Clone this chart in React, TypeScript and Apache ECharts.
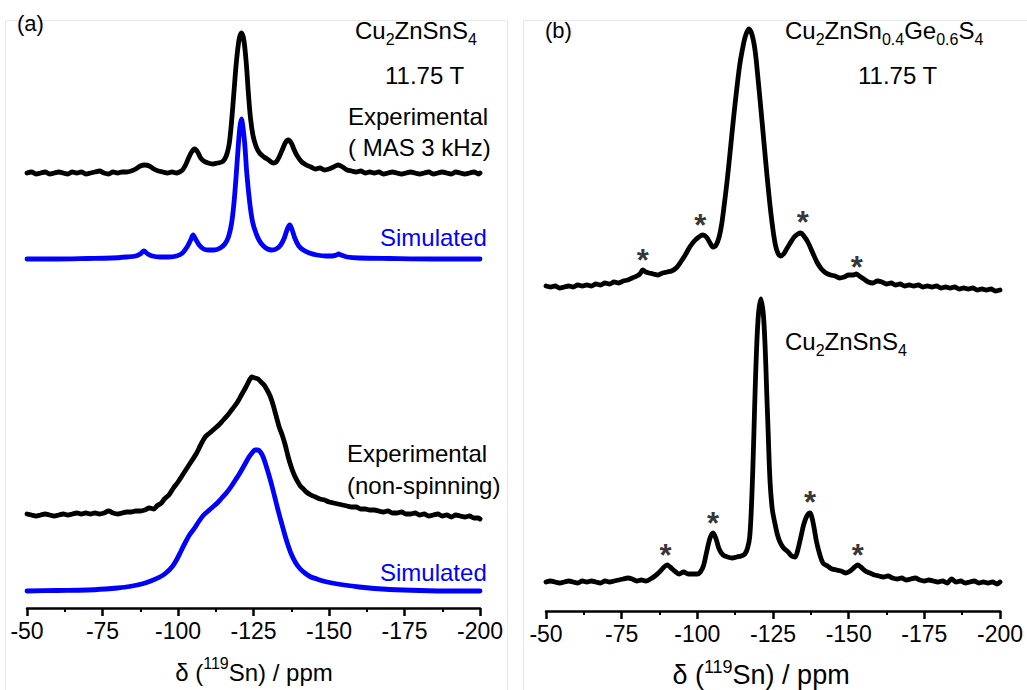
import React, { useEffect, useRef } from "react";
import * as echarts from "echarts";

// ---------- DATA (ppm, intensity above own baseline, in screen-scale units) ----------
const xTicks = [-50, -75, -100, -125, -150, -175, -200];

// Panel (a): Cu2ZnSnS4, MAS 3 kHz experimental
const masExp: number[][] = [
  [-50, 0], [-51.5, 1], [-53, -1], [-54.5, 0], [-56, 1], [-57.5, -1], [-59, 0], [-60.5, 1], [-62, 0], [-63.5, -1],
  [-65, 1], [-66.5, 0], [-68, 1], [-69.5, -1], [-71, 0], [-72.5, 1], [-74, 2], [-75.5, 0], [-77, -1], [-78.5, 1],
  [-80, 0], [-81.5, 1], [-83, 1], [-84.5, 2], [-86, 4], [-87.5, 7], [-89, 8], [-90.5, 7], [-92, 4], [-93.5, 2],
  [-95, 1], [-96.5, 0], [-98, 1], [-99.5, 0], [-100.5, 1], [-101.5, 3], [-102.5, 8], [-103.5, 15], [-104.5, 21],
  [-105.5, 24], [-106.5, 21], [-107.5, 15], [-108.5, 12], [-110, 10], [-111.5, 9], [-113, 10], [-114.5, 11],
  [-115.5, 14], [-116.3, 20], [-117, 30], [-117.7, 50], [-118.5, 80], [-119.3, 110], [-120.2, 133], [-121, 140],
  [-121.8, 133], [-122.6, 110], [-123.3, 80], [-124, 55], [-124.8, 38], [-125.8, 27], [-127, 20], [-128.5, 16],
  [-130, 13], [-131.5, 10], [-132.5, 11], [-133.5, 16], [-134.5, 23], [-135.5, 30], [-136.5, 33], [-137.5, 30],
  [-138.5, 23], [-139.5, 17], [-141, 11], [-142.5, 8], [-144, 6], [-145.5, 4], [-147, 5], [-148.5, 3], [-150, 4],
  [-151.5, 6], [-153, 8], [-154.5, 6], [-156, 3], [-157.5, 2], [-159, 1], [-160.5, 2], [-162, 0], [-163.5, 1],
  [-165, 0], [-166.5, 1], [-168, -1], [-169.5, 0], [-171, 1], [-172.5, 0], [-174, -1], [-175.5, 0], [-177, 1],
  [-178.5, 0], [-180, -1], [-181.5, 0], [-183, 1], [-184.5, -1], [-186, 0], [-187.5, 1], [-189, 0], [-190.5, -1],
  [-192, 1], [-193.5, 0], [-195, -1], [-196.5, 0], [-198, 1], [-199.5, -1], [-200, 0],
];

// Panel (a): simulated MAS
const masSim: number[][] = [
  [-50, 0], [-60, 0], [-70, 0.5], [-78, 1], [-83, 2], [-86, 3], [-87.5, 5], [-88.7, 8], [-90, 5], [-91.5, 3],
  [-94, 2], [-97, 2], [-99.5, 3], [-101.5, 6], [-103, 12], [-104.2, 19], [-105, 24], [-105.8, 20], [-107, 14],
  [-108.5, 10], [-110, 9], [-112, 9], [-114, 11], [-115.5, 15], [-116.7, 22], [-117.7, 35], [-118.5, 55],
  [-119.3, 85], [-120, 115], [-120.5, 132], [-121, 140], [-121.5, 132], [-122.1, 115], [-122.8, 85], [-123.8, 55],
  [-124.7, 37], [-125.8, 26], [-127, 18], [-128.3, 13], [-129.7, 10], [-131, 9], [-132.5, 10], [-134, 14],
  [-135.2, 21], [-136.2, 30], [-137, 34], [-137.8, 29], [-138.8, 20], [-140, 13], [-141.5, 9], [-143.5, 6],
  [-146, 4], [-149, 3], [-151, 3], [-152.5, 4], [-153.2, 5], [-154, 4], [-156, 2], [-160, 1], [-170, 0.5],
  [-185, 0], [-200, 0],
];

// Panel (a): non-spinning experimental
const staticExp: number[][] = [
  [-50, 1], [-51.5, 0], [-53, -1], [-54.5, 0], [-56, 1], [-57.5, 0], [-59, -1], [-60.5, 0], [-62, 1], [-63.5, 0],
  [-65, 1], [-66.5, 2], [-68, 1], [-69.5, 2], [-71, 1], [-72.5, 2], [-74, 1], [-75.5, 2], [-77, 4], [-78.5, 2],
  [-80, 1], [-81.5, 2], [-83, 3], [-84.5, 3], [-86, 4], [-87.5, 4], [-89, 5], [-90.5, 7], [-92, 6], [-93, 9],
  [-94.5, 12], [-95.5, 16], [-97, 20], [-98.5, 27], [-100, 33], [-101.5, 40], [-103, 47], [-104.5, 54],
  [-106, 61], [-107.5, 70], [-109, 78], [-110.5, 82], [-112, 86], [-113.5, 90], [-115, 95], [-116.5, 100],
  [-118, 106], [-119.5, 112], [-121, 120], [-122.5, 128], [-123.5, 134], [-124.5, 138], [-125.5, 137],
  [-126.5, 136], [-127.5, 133], [-128.5, 130], [-129.5, 125], [-130.5, 119], [-131.5, 110], [-132.5, 99],
  [-133.5, 88], [-134.5, 80], [-135.5, 70], [-136.5, 58], [-137.5, 48], [-138.5, 40], [-139.5, 34], [-140.5, 29],
  [-141.5, 26], [-142.5, 23], [-144, 20], [-145.5, 18], [-147, 16], [-148.5, 15], [-150, 13], [-151.5, 12],
  [-153, 11], [-154.5, 10], [-156, 9], [-157.5, 8], [-159, 8], [-160.5, 6], [-162, 6], [-163.5, 5], [-165, 5],
  [-166.5, 4], [-168, 3], [-169.5, 4], [-171, 2], [-172.5, 2], [-174, 3], [-175.5, 1], [-177, 1], [-178.5, 2],
  [-180, 0], [-181.5, 1], [-183, -1], [-184.5, 0], [-186, 1], [-187.5, -1], [-189, 0], [-190.5, -2], [-192, 0],
  [-193.5, -1], [-195, -2], [-196.5, -1], [-198, -3], [-199.5, -3], [-200, -4],
];

// Panel (a): non-spinning simulated
const staticSim: number[][] = [
  [-50, 0], [-60, 0.5], [-70, 1], [-76, 2], [-80, 3], [-84, 4.5], [-88, 7], [-91, 10], [-94, 14], [-96, 18],
  [-98, 24], [-99.5, 31], [-101, 40], [-102.5, 49], [-104, 57], [-105.5, 63], [-107, 70], [-108.5, 76],
  [-110, 80], [-111.5, 84], [-113, 88], [-114.5, 93], [-116, 98], [-117.5, 104], [-119, 111], [-120.5, 118],
  [-122, 126], [-123.5, 134], [-124.5, 138], [-125.5, 141], [-126.5, 141], [-127.3, 139], [-128.2, 134],
  [-129.2, 125], [-130.2, 115], [-131.2, 104], [-132.2, 92], [-133.2, 80], [-134.2, 69], [-135.2, 58],
  [-136.3, 47], [-137.5, 37], [-139, 28], [-140.5, 22], [-142, 18], [-144, 14], [-146, 12], [-148, 10],
  [-151, 8], [-155, 6], [-160, 4], [-165, 2.5], [-170, 1.5], [-180, 0.5], [-190, 0], [-200, 0],
];

// Panel (b): Cu2ZnSn0.4Ge0.6S4
const cztgs: number[][] = [
  [-50, 1], [-51.5, 0], [-53, 1], [-54.5, -1], [-56, 0], [-57.5, 1], [-59, 0], [-60.5, 2], [-62, 1], [-63.5, 2],
  [-65, 1], [-66.5, 3], [-68, 2], [-69.5, 4], [-71, 3], [-72.5, 5], [-74, 4], [-75.5, 6], [-77, 7], [-78.5, 9],
  [-80, 11], [-81, 13], [-82, 17], [-83, 15], [-84, 14], [-85.5, 13], [-87, 12], [-88.5, 14], [-90, 15],
  [-91.5, 16], [-93, 19], [-94.5, 25], [-96, 32], [-97.5, 40], [-99, 46], [-100.5, 50], [-101.8, 52],
  [-103, 50], [-104.2, 44], [-105.2, 40], [-106.2, 42], [-107.2, 50], [-108, 62], [-108.8, 80], [-109.8, 105],
  [-110.8, 134], [-112, 170], [-113.1, 200], [-114, 222], [-114.8, 236], [-115.8, 250], [-117, 258],
  [-118.1, 252], [-119.1, 236], [-120, 210], [-121, 178], [-122, 145], [-123, 112], [-124, 82], [-125, 57],
  [-125.8, 42], [-126.6, 34], [-127.5, 31], [-128.5, 33], [-129.5, 38], [-130.7, 44], [-132, 50], [-133.2, 53],
  [-134.2, 54], [-135.2, 51], [-136.5, 45], [-138, 35], [-139.5, 25], [-141, 18], [-142.5, 14], [-144, 12],
  [-145.5, 11], [-147, 9], [-148.5, 10], [-150, 12], [-151.5, 12], [-152.5, 13], [-153.5, 11], [-155, 8],
  [-156.5, 5], [-158, 4], [-159.5, 6], [-161, 5], [-162.5, 3], [-164, 4], [-165.5, 2], [-167, 3], [-168.5, 1],
  [-170, 2], [-171.5, 1], [-173, 2], [-174.5, 0], [-176, 1], [-177.5, 0], [-179, 1], [-180.5, -1], [-182, 0],
  [-183.5, -1], [-185, 0], [-186.5, -2], [-188, -1], [-189.5, -2], [-191, -1], [-192.5, -3], [-194, -2],
  [-195.5, -3], [-197, -2], [-198.5, -4], [-200, -3],
];

// Panel (b): Cu2ZnSnS4
const czts: number[][] = [
  [-50, 0], [-51.5, 1], [-53, 0], [-54.5, -1], [-56, 0], [-57.5, 1], [-59, 0], [-60.5, -1], [-62, 1], [-63.5, 0],
  [-65, 1], [-66.5, 0], [-68, -1], [-69.5, 1], [-71, 0], [-72.5, 1], [-74, 2], [-75.5, 3], [-77, 4], [-78.5, 3],
  [-80, 1], [-81.5, 2], [-83, 1], [-84.5, 3], [-86, 6], [-87.5, 10], [-89, 15], [-90, 17], [-91, 15], [-92.5, 11],
  [-94, 8], [-95.5, 10], [-97, 8], [-98.5, 8], [-100, 8], [-101, 10], [-102, 16], [-103, 29], [-104.2, 44],
  [-105.2, 49], [-106.2, 43], [-107.2, 33], [-108.5, 27], [-110, 25], [-111.5, 24], [-113, 25], [-114.5, 26],
  [-115.7, 28], [-116.6, 34], [-117.3, 45], [-117.8, 70], [-118.3, 110], [-118.7, 150], [-119.1, 192],
  [-119.6, 235], [-120.2, 268], [-121, 283], [-121.8, 268], [-122.4, 235], [-122.9, 192], [-123.4, 150],
  [-123.8, 115], [-124.2, 92], [-124.8, 72], [-125.6, 59], [-126.4, 48], [-127.3, 40], [-128.5, 34], [-130, 30],
  [-131.2, 26], [-132.3, 25], [-133.2, 32], [-134.2, 45], [-135.2, 58], [-136.2, 66], [-137.2, 69], [-138.2, 60],
  [-139.4, 40], [-140.5, 27], [-141.5, 19], [-143, 16], [-144.5, 13], [-146, 12], [-147.5, 11], [-149, 9],
  [-150.5, 11], [-152, 15], [-153, 17], [-154, 15], [-155.5, 11], [-157, 9], [-158.5, 7], [-160, 6], [-161.5, 5],
  [-163, 6], [-164.5, 4], [-166, 3], [-167.5, 4], [-169, 2], [-170.5, 3], [-172, 4], [-173.5, 2], [-175, 1],
  [-176.5, 2], [-178, 1], [-179.5, 0], [-181, 1], [-182.5, -1], [-184, 3], [-185.5, 0], [-187, 1], [-188.5, -1],
  [-190, 0], [-191.5, 1], [-193, -1], [-194.5, 0], [-196, -1], [-197.5, 0], [-199, -2], [-200, 0],
];

// Stacking offsets of each trace (vertical baseline)
const offsetMasExp = 435;
const offsetMasSim = 349;
const offsetStaticExp = 93;
const offsetStaticSim = 17;
const offsetCztgs = 324;
const offsetCzts = 29;

// Spinning-sideband markers (*) in panel (b): [ppm, height]
const starsTop: number[][] = [[-82, 351], [-101, 386], [-134.8, 389], [-152.7, 344]];
const starsBottom: number[][] = [[-89.5, 56], [-105.2, 88], [-137.2, 109], [-153, 56]];

const FONT = "'Liberation Sans', Arial, Helvetica, sans-serif";

function shift(arr: number[][], off: number) {
  return arr.map((p) => [p[0], p[1] + off]);
}

export default function App() {
  const ref = useRef<HTMLDivElement>(null);
  useEffect(() => {
    if (!ref.current) return;
    const chart = echarts.init(ref.current, undefined, { renderer: "svg" });

    const xAxisCommon = {
      type: "value",
      min: -200,
      max: -50,
      interval: 25,
      inverse: true,
      axisLine: { show: true, onZero: false, lineStyle: { color: "#000", width: 2.5 } },
      axisTick: { show: true, inside: false, length: 8, lineStyle: { color: "#000", width: 2.5 } },
      minorTick: { show: true, splitNumber: 2, length: 4, lineStyle: { color: "#000", width: 2 } },
      splitLine: { show: false },
      minorSplitLine: { show: false },
      axisLabel: {
        color: "#000",
        fontSize: 23,
        fontFamily: FONT,
        margin: 11,
        showMinLabel: true,
        showMaxLabel: true,
        formatter: (v: number) => (xTicks.includes(v) ? String(v) : ""),
      },
    };

    const lineSeries = (data: number[][], color: string, axis: number) => ({
      type: "line",
      xAxisIndex: axis,
      yAxisIndex: axis,
      data,
      showSymbol: false,
      symbol: "none",
      smooth: 0.3,
      lineStyle: { color, width: 4.8, cap: "round", join: "round" },
      silent: true,
    });

    const starSeries = (data: number[][]) => ({
      type: "scatter",
      xAxisIndex: 1,
      yAxisIndex: 1,
      data,
      symbol: "circle",
      symbolSize: 1,
      itemStyle: { color: "rgba(0,0,0,0)" },
      label: {
        show: true,
        position: "inside",
        formatter: "*",
        color: "#000",
        fontSize: 31,
        fontWeight: "bold",
        fontFamily: FONT,
        offset: [0, 10],
      },
      labelLayout: { hideOverlap: false },
      silent: true,
    });

    const rich = (size: number) => ({
      n: { fontSize: size, fontFamily: FONT, lineHeight: 34, verticalAlign: "middle", fill: "#000", color: "#000" },
      s: { fontSize: Math.round(size * 0.66), fontFamily: FONT, verticalAlign: "bottom", fill: "#000", color: "#000" },
      u: { fontSize: Math.round(size * 0.66), fontFamily: FONT, verticalAlign: "top", fill: "#000", color: "#000" },
    });

    const txt = (text: string, x: number, y: number, size: number, color = "#000", align = "left") => ({
      type: "text",
      x,
      y,
      silent: true,
      style: {
        text,
        fill: color,
        fontSize: size,
        fontFamily: FONT,
        align,
        verticalAlign: "middle",
      },
    });

    const richTxt = (text: string, x: number, y: number, size: number, align = "left") => ({
      type: "text",
      x,
      y,
      silent: true,
      style: {
        text,
        rich: rich(size),
        fill: "#000",
        fontSize: size,
        fontFamily: FONT,
        align,
        verticalAlign: "middle",
      },
    });

    const option = {
      animation: false,
      backgroundColor: "#fff",
      grid: [
        { left: 27, top: 20, width: 453, height: 588 },
        { left: 546, top: 20, width: 454, height: 591 },
      ],
      xAxis: [
        { ...xAxisCommon, gridIndex: 0 },
        { ...xAxisCommon, gridIndex: 1 },
      ],
      yAxis: [
        { type: "value", gridIndex: 0, min: 0, max: 588, show: false },
        { type: "value", gridIndex: 1, min: 0, max: 591, show: false },
      ],
      series: [
        lineSeries(shift(masExp, offsetMasExp), "#000", 0),
        lineSeries(shift(masSim, offsetMasSim), "#0000ff", 0),
        lineSeries(shift(staticExp, offsetStaticExp), "#000", 0),
        lineSeries(shift(staticSim, offsetStaticSim), "#0000ff", 0),
        lineSeries(shift(cztgs, offsetCztgs), "#000", 1),
        lineSeries(shift(czts, offsetCzts), "#000", 1),
        starSeries(starsTop),
        starSeries(starsBottom),
      ],
      graphic: [
        {
          type: "rect",
          silent: true,
          shape: { x: 5.5, y: 20.5, width: 502, height: 700 },
          style: { fill: "none", stroke: "#e8e8e8", lineWidth: 1 },
        },
        {
          type: "rect",
          silent: true,
          shape: { x: 523.5, y: 20.5, width: 520, height: 700 },
          style: { fill: "none", stroke: "#e8e8e8", lineWidth: 1 },
        },
        txt("(a)", 17, 23, 22),
        txt("(b)", 545, 30, 22),
        richTxt("{n|Cu}{s|2}{n|ZnSnS}{s|4}", 355, 30, 24),
        txt("11.75 T", 385, 75, 24),
        txt("Experimental", 348, 116, 24),
        txt("( MAS 3 kHz)", 348, 147, 24),
        txt("Simulated", 380, 237, 24, "#0000ff"),
        txt("Experimental", 347, 453, 24),
        txt("(non-spinning)", 347, 485, 24),
        txt("Simulated", 380, 572, 24, "#0000ff"),
        richTxt("{n|δ (}{u|119}{n|Sn) / ppm}", 254, 672, 24, "center"),
        richTxt("{n|Cu}{s|2}{n|ZnSn}{s|0.4}{n|Ge}{s|0.6}{n|S}{s|4}", 785, 30, 24),
        txt("11.75 T", 858, 75, 24),
        richTxt("{n|Cu}{s|2}{n|ZnSnS}{s|4}", 785, 341, 24),
        richTxt("{n|δ (}{u|119}{n|Sn) / ppm}", 761, 675, 27, "center"),
      ],
    };

    chart.setOption(option as any);
    return () => chart.dispose();
  }, []);

  return (
    <div
      ref={ref}
      style={{ position: "absolute", left: 0, top: 0, width: 1027, height: 690, background: "#fff" }}
    />
  );
}
